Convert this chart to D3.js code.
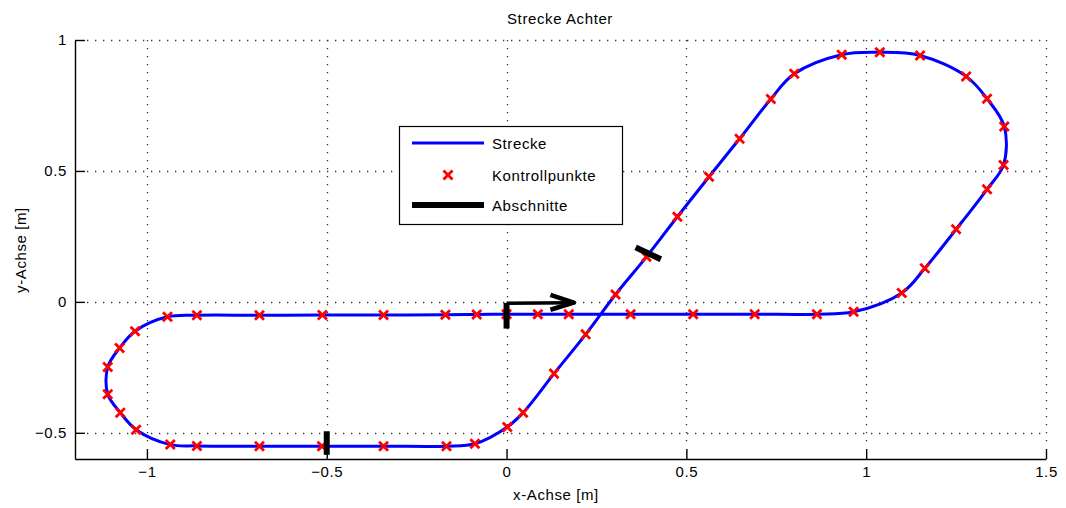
<!DOCTYPE html>
<html>
<head>
<meta charset="utf-8">
<script src="https://cdn.jsdelivr.net/npm/d3@7"></script>
<style>
  body { margin: 0; background: #fff; }
  svg { display: block; font-family: "Liberation Sans", Arial, sans-serif; }
  text { letter-spacing: 0.6px; }
</style>
</head>
<body>
<svg></svg>
<script>
// control points along the figure eight
let ctrlX = [0, 0.087, 0.173, 0.345, 0.519, 0.690, 0.863, 0.965, 1.099, 1.163, 1.250, 1.336, 1.382, 1.384,
             1.336, 1.278, 1.150, 1.038, 0.932, 0.800, 0.735, 0.648, 0.563, 0.475, 0.389, 0.303, 0.220,
             0.132, 0.046, 0.002, -0.088, -0.167, -0.342, -0.513, -0.687, -0.861, -0.935, -1.030, -1.074,
             -1.109, -1.109, -1.076, -1.033, -0.943, -0.861, -0.687, -0.512, -0.342, -0.170, -0.083]
let ctrlY = [-0.047, -0.047, -0.047, -0.047, -0.047, -0.047, -0.047, -0.038, 0.034, 0.128, 0.277, 0.430, 0.523, 0.670,
             0.776, 0.861, 0.941, 0.953, 0.944, 0.871, 0.775, 0.623, 0.478, 0.325, 0.172, 0.028, -0.124,
             -0.274, -0.423, -0.478, -0.542, -0.551, -0.551, -0.551, -0.551, -0.550, -0.545, -0.488, -0.423,
             -0.353, -0.249, -0.176, -0.112, -0.057, -0.051, -0.051, -0.050, -0.050, -0.049, -0.048]

// section marks (Abschnitte): [x1, y1, x2, y2]
let sections = [
    [0, -0.004, 0, -0.102],
    [-0.5, -0.494, -0.5, -0.584],
    [0.359, 0.208, 0.429, 0.163]
]

// start direction arrow
let arrowShaft = [[0, -0.005], [0.180, -0.003]]
let arrowHead = [[0.122, 0.027], [0.187, -0.003], [0.122, -0.030]]

let xTicks = [-1, -0.5, 0, 0.5, 1, 1.5]
let yTicks = [-0.5, 0, 0.5, 1]

let legendLabels = ['Strecke', 'Kontrollpunkte', 'Abschnitte']

let width = 1066
let height = 508
let padLeft = 75, padRight = 1046, padTop = 40, padBottom = 459

let svg = d3.select('svg')
    .attr('width', width)
    .attr('height', height)

let xScale = d3.scaleLinear().domain([-1.2, 1.5]).range([padLeft, padRight])
let yScale = d3.scaleLinear().domain([-0.6, 1]).range([padBottom, padTop])

// dotted grid
let grid = svg.append('g')
    .attr('stroke', '#333')
    .attr('stroke-width', 1.3)
    .attr('stroke-dasharray', '1.3 6.7')

grid.selectAll('.vgrid')
    .data(xTicks)
    .enter()
    .append('line')
    .attr('x1', d => Math.round(xScale(d)) + 0.5)
    .attr('x2', d => Math.round(xScale(d)) + 0.5)
    .attr('y1', padTop)
    .attr('y2', padBottom - 12)

grid.selectAll('.hgrid')
    .data(yTicks)
    .enter()
    .append('line')
    .attr('y1', d => Math.round(yScale(d)) + 0.5)
    .attr('y2', d => Math.round(yScale(d)) + 0.5)
    .attr('x1', padLeft + 12)
    .attr('x2', padRight)

// axes
let xAxis = d3.axisBottom(xScale)
    .tickValues(xTicks)
    .tickFormat(d3.format('~g'))
    .tickSize(-10)
    .tickSizeOuter(0)
    .tickPadding(7)

let yAxis = d3.axisLeft(yScale)
    .tickValues(yTicks)
    .tickFormat(d3.format('~g'))
    .tickSize(-10)
    .tickSizeOuter(0)
    .tickPadding(8)

svg.append('g')
    .attr('transform', 'translate(0,' + padBottom + ')')
    .call(xAxis)

svg.append('g')
    .attr('transform', 'translate(' + padLeft + ',0)')
    .call(yAxis)

svg.selectAll('.domain, .tick line')
    .attr('stroke', '#000')
    .attr('stroke-width', 1.4)
svg.selectAll('.tick text')
    .attr('font-size', 15)
    .attr('font-family', '"Liberation Sans", Arial, sans-serif')
    .attr('fill', '#000')

// track line
let pts = ctrlX.map((x, i) => [x, ctrlY[i]])

let line = d3.line()
    .x(d => xScale(d[0]))
    .y(d => yScale(d[1]))
    .curve(d3.curveCatmullRomClosed.alpha(0.5))

svg.append('path')
    .datum(pts)
    .attr('d', line)
    .attr('fill', 'none')
    .attr('stroke', '#0000ff')
    .attr('stroke-width', 3)

// control point markers
let xMark = d3.symbol().type(d3.symbolX || d3.symbolCross).size(55)

svg.selectAll('.ctrl')
    .data(pts)
    .enter()
    .append('path')
    .attr('class', 'ctrl')
    .attr('d', xMark)
    .attr('transform', d => 'translate(' + xScale(d[0]) + ',' + yScale(d[1]) + ')')
    .attr('fill', 'none')
    .attr('stroke', '#ff0000')
    .attr('stroke-width', 2.8)

// section marks
svg.selectAll('.sec')
    .data(sections)
    .enter()
    .append('line')
    .attr('x1', d => xScale(d[0]))
    .attr('y1', d => yScale(d[1]))
    .attr('x2', d => xScale(d[2]))
    .attr('y2', d => yScale(d[3]))
    .attr('stroke', '#000')
    .attr('stroke-width', 6)

// arrow
let plain = d3.line()
    .x(d => xScale(d[0]))
    .y(d => yScale(d[1]))

svg.append('path')
    .attr('d', plain(arrowShaft))
    .attr('stroke', '#000')
    .attr('stroke-width', 3.5)
    .attr('fill', 'none')

svg.append('path')
    .attr('d', plain(arrowHead))
    .attr('stroke', '#000')
    .attr('stroke-width', 4.5)
    .attr('stroke-linejoin', 'round')
    .attr('fill', 'none')

// title and labels
svg.append('text')
    .attr('x', 560)
    .attr('y', 24)
    .attr('text-anchor', 'middle')
    .attr('font-size', 15)
    .text('Strecke Achter')

svg.append('text')
    .attr('x', 556)
    .attr('y', 500)
    .attr('text-anchor', 'middle')
    .attr('font-size', 15)
    .text('x-Achse [m]')

svg.append('text')
    .attr('transform', 'translate(26,250) rotate(-90)')
    .attr('text-anchor', 'middle')
    .attr('font-size', 15)
    .text('y-Achse [m]')

// legend
let legend = svg.append('g')

legend.append('rect')
    .attr('x', 399.5)
    .attr('y', 126.5)
    .attr('width', 223)
    .attr('height', 98)
    .attr('fill', '#fff')
    .attr('stroke', '#000')
    .attr('stroke-width', 1.2)

let rowY = [143, 175, 205]

legend.append('line')
    .attr('x1', 412).attr('x2', 484)
    .attr('y1', rowY[0]).attr('y2', rowY[0])
    .attr('stroke', '#0000ff')
    .attr('stroke-width', 3)

legend.append('path')
    .attr('d', xMark)
    .attr('transform', 'translate(448,' + rowY[1] + ')')
    .attr('fill', 'none')
    .attr('stroke', '#ff0000')
    .attr('stroke-width', 2.8)

legend.append('line')
    .attr('x1', 412).attr('x2', 484)
    .attr('y1', rowY[2]).attr('y2', rowY[2])
    .attr('stroke', '#000')
    .attr('stroke-width', 6)

legend.selectAll('.lt')
    .data(legendLabels)
    .enter()
    .append('text')
    .attr('x', 492)
    .attr('y', (d, i) => rowY[i] + 5.5)
    .attr('font-size', 15)
    .text(d => d)
</script>
</body>
</html>
